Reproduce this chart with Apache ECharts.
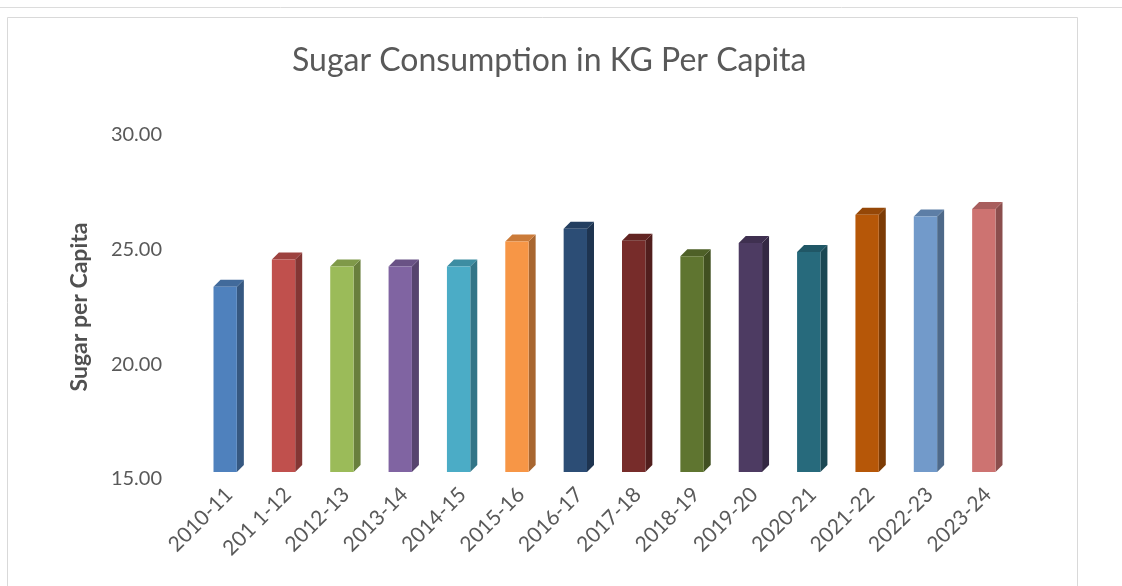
<!DOCTYPE html>
<html>
<head>
<meta charset="utf-8">
<script src="https://cdn.jsdelivr.net/npm/echarts@6/dist/echarts.min.js"></script>
<style>
html,body{margin:0;padding:0;background:#fff;}
#chart{width:1122px;height:586px;}
</style>
</head>
<body>
<div id="chart"></div>
<script>
const categories = ['2010-11','201 1-12','2012-13','2013-14','2014-15','2015-16','2016-17','2017-18','2018-19','2019-20','2020-21','2021-22','2022-23','2023-24'];
const values = [23.38, 24.57, 24.27, 24.27, 24.27, 25.36, 25.91, 25.39, 24.71, 25.29, 24.90, 26.52, 26.45, 26.77];
const yTicks = { min: 15, max: 30, interval: 5 };
const barColors = ['#4F81BD','#C0504D','#9BBB59','#8064A2','#4BACC6','#F79646','#2C4D75','#772C2A','#5F7530','#4D3B62','#276A7C','#B65708','#729ACA','#CD7371'];

function shade(hex, f) {
  const n = parseInt(hex.slice(1), 16);
  const r = Math.round(((n >> 16) & 255) * f);
  const g = Math.round(((n >> 8) & 255) * f);
  const b = Math.round((n & 255) * f);
  return 'rgb(' + Math.min(255,r) + ',' + Math.min(255,g) + ',' + Math.min(255,b) + ')';
}

const chart = echarts.init(document.getElementById('chart'), null, { renderer: 'canvas' });
const FONT = 'Lato, "Open Sans", sans-serif';
const TXT = '#595959';

const option = {
  backgroundColor: '#ffffff',
  animation: false,
  graphic: [
    { type: 'line', shape: { x1: 0, y1: 7.5, x2: 1122, y2: 7.5 }, style: { stroke: '#dcdcdc', lineWidth: 1 }, z: -10 },
    { type: 'rect', shape: { x: 7.5, y: 17.5, width: 1070, height: 580 }, style: { fill: 'none', stroke: '#d9d9d9', lineWidth: 1 }, z: -10 }
  ],
  title: {
    text: 'Sugar Consumption in KG Per Capita',
    left: 287,
    top: 40,
    textStyle: { fontFamily: FONT, fontSize: 32, fontWeight: 'normal', color: TXT }
  },
  grid: { left: 200, right: 105, top: 135, bottom: 107, containLabel: false },
  xAxis: {
    type: 'category',
    data: categories,
    boundaryGap: true,
    axisLine: { show: false },
    axisTick: { show: false },
    axisLabel: { rotate: 45, margin: 12, interval: 0, fontFamily: FONT, fontSize: 21, color: TXT }
  },
  yAxis: {
    type: 'value',
    min: yTicks.min,
    max: yTicks.max,
    interval: yTicks.interval,
    name: 'Sugar per Capita',
    nameLocation: 'middle',
    nameRotate: 90,
    nameGap: 109,
    nameTextStyle: { fontFamily: FONT, fontSize: 23, fontWeight: 'bold', color: '#505050' },
    axisLine: { show: false },
    axisTick: { show: false },
    splitLine: { show: false },
    axisLabel: { margin: 38, fontFamily: FONT, fontSize: 20, color: TXT, formatter: v => v.toFixed(2) }
  },
  series: [{
    type: 'custom',
    data: values.map((v, i) => [i, v]),
    encode: { x: 0, y: 1 },
    renderItem: function (params, api) {
      const i = api.value(0);
      const v = api.value(1);
      const top = api.coord([i, v]);
      const base = api.coord([i, yTicks.min]);
      const bw = api.size([1, 0])[0];
      const frontW = bw * 0.40;
      const dx = 7, dy = 7, floor = 7;
      const cx = top[0] - 4;
      const x0 = cx - frontW / 2, x1 = cx + frontW / 2;
      const yT = top[1], yB = base[1] - floor;
      const c = barColors[i % barColors.length];
      return {
        type: 'group',
        children: [
          { type: 'polygon', shape: { points: [[x1, yT], [x1 + dx, yT - dy], [x1 + dx, yB - dy], [x1, yB]] }, style: { fill: shade(c, 0.68) } },
          { type: 'polygon', shape: { points: [[x0, yT], [x0 + dx, yT - dy], [x1 + dx, yT - dy], [x1, yT]] }, style: { fill: shade(c, 0.82) } },
          { type: 'rect', shape: { x: x0, y: yT, width: frontW, height: yB - yT }, style: { fill: c } }
        ]
      };
    }
  }]
};
chart.setOption(option);
</script>
</body>
</html>
